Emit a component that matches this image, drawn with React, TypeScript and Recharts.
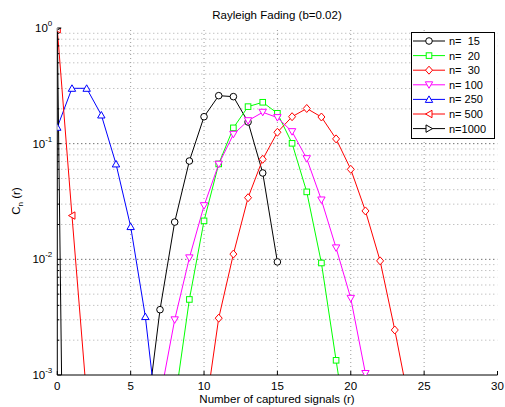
import React from "react";
import { LineChart, Line, XAxis, YAxis, ReferenceLine } from "recharts";

// r values (number of captured signals) and C_n(r)
const rCategories = [0, 1, 2, 3, 4, 5, 6, 7, 8, 9, 10, 11, 12, 13, 14, 15, 16, 17, 18, 19, 20, 21, 22, 23, 24];

const n15Start = 6;
const n15 = [3.5e-4, 3.67e-3, 0.021, 0.0708, 0.171, 0.26, 0.255, 0.154, 0.0558, 0.0095];
const n20Start = 8;
const n20 = [5.7e-4, 4.5e-3, 0.0215, 0.0668, 0.137, 0.209, 0.228, 0.183, 0.1007, 0.0383, 0.0093, 1.34e-3, 2e-4];
const n30Start = 10;
const n30 = [4e-4, 3.1e-3, 0.0111, 0.0341, 0.0733, 0.1255, 0.171, 0.2015, 0.17, 0.11, 0.06, 0.0262, 0.0097, 2.45e-3, 5.5e-4];
const n100Start = 7;
const n100 = [6.3e-4, 3.0e-3, 0.0103, 0.0291, 0.0664, 0.1205, 0.158, 0.1868, 0.168, 0.127, 0.0742, 0.0326, 0.01256, 4.6e-3, 1.03e-3, 2.3e-4];
const n250Start = 0;
const n250 = [0.1386, 0.301, 0.301, 0.177, 0.0668, 0.0192, 3.2e-3, 2.5e-4];
const n500Start = 0;
const n500 = [0.975, 0.0239, 6.5e-4];
const n1000Start = 0;
const n1000 = [1, 5e-11];

const xTicks = [0, 5, 10, 15, 20, 25, 30];
const xGrid = [5, 10, 15, 20, 25];
const yDecades = [0.001, 0.01, 0.1, 1];
const yMinor = [
  0.002, 0.003, 0.004, 0.005, 0.006, 0.007, 0.008, 0.009,
  0.02, 0.03, 0.04, 0.05, 0.06, 0.07, 0.08, 0.09,
  0.2, 0.3, 0.4, 0.5, 0.6, 0.7, 0.8, 0.9,
];
const yTicks = [...yDecades, ...yMinor].sort((a, b) => a - b);

type Shape = "circle" | "square" | "diamond" | "triDown" | "triUp" | "triLeft" | "triRight";

const SERIES: { key: string; label: string; color: string; shape: Shape; start: number; values: number[] }[] = [
  { key: "n15", label: "n=  15", color: "#000000", shape: "circle", start: n15Start, values: n15 },
  { key: "n20", label: "n=  20", color: "#00ff00", shape: "square", start: n20Start, values: n20 },
  { key: "n30", label: "n=  30", color: "#ff0000", shape: "diamond", start: n30Start, values: n30 },
  { key: "n100", label: "n= 100", color: "#ff00ff", shape: "triDown", start: n100Start, values: n100 },
  { key: "n250", label: "n= 250", color: "#0000ff", shape: "triUp", start: n250Start, values: n250 },
  { key: "n500", label: "n= 500", color: "#ff0000", shape: "triLeft", start: n500Start, values: n500 },
  { key: "n1000", label: "n=1000", color: "#000000", shape: "triRight", start: n1000Start, values: n1000 },
];

const data = rCategories.map((r) => {
  const row: { [key: string]: number | null } = { r };
  SERIES.forEach((s) => {
    const i = r - s.start;
    row[s.key] = i >= 0 && i < s.values.length ? s.values[i] : null;
  });
  return row;
});

const FONT = '"Liberation Sans", Arial, sans-serif';

function Marker({ shape, cx, cy, color }: { shape: Shape; cx: number; cy: number; color: string }) {
  const common = { fill: "#ffffff", stroke: color, strokeWidth: 1 };
  switch (shape) {
    case "circle":
      return <circle cx={cx} cy={cy} r={3.3} {...common} />;
    case "square":
      return <rect x={cx - 2.8} y={cy - 2.8} width={5.6} height={5.6} {...common} />;
    case "diamond":
      return <polygon points={`${cx},${cy - 4} ${cx + 3.5},${cy} ${cx},${cy + 4} ${cx - 3.5},${cy}`} {...common} />;
    case "triDown":
      return <polygon points={`${cx - 3.7},${cy - 3} ${cx + 3.7},${cy - 3} ${cx},${cy + 3.5}`} {...common} />;
    case "triUp":
      return <polygon points={`${cx - 3.7},${cy + 3} ${cx + 3.7},${cy + 3} ${cx},${cy - 3.5}`} {...common} />;
    case "triLeft":
      return <polygon points={`${cx + 3},${cy - 3.7} ${cx + 3},${cy + 3.7} ${cx - 3.5},${cy}`} {...common} />;
    default:
      return <polygon points={`${cx - 3},${cy - 3.7} ${cx - 3},${cy + 3.7} ${cx + 3.5},${cy}`} {...common} />;
  }
}

function isDecade(v: number) {
  return yDecades.some((d) => Math.abs(d - v) < d * 1e-6);
}

function BottomTick(props: any) {
  const { x, y, payload } = props;
  return (
    <g>
      <line x1={x} x2={x} y1={y} y2={y - 4} stroke="#000" />
      <text x={x} y={y + 15} textAnchor="middle" fontSize={11.5} fontFamily={FONT} fill="#000">
        {payload.value}
      </text>
    </g>
  );
}

function TopTick(props: any) {
  const { x, y } = props;
  return <line x1={x} x2={x} y1={y} y2={y + 4} stroke="#000" />;
}

function LeftTick(props: any) {
  const { x, y, payload } = props;
  const major = isDecade(payload.value);
  const exp = Math.round(Math.log10(payload.value));
  return (
    <g>
      <line x1={x} x2={x + (major ? 4 : 2)} y1={y} y2={y} stroke="#000" />
      {major && (
        <text x={x - 5} y={y + 4} textAnchor="end" fontSize={11.5} fontFamily={FONT} fill="#000">
          10
          <tspan dy={-6} fontSize={8}>
            {exp === 0 ? "0" : `-${-exp}`}
          </tspan>
        </text>
      )}
    </g>
  );
}

function RightTick(props: any) {
  const { x, y, payload } = props;
  const major = isDecade(payload.value);
  return <line x1={x} x2={x - (major ? 4 : 2)} y1={y} y2={y} stroke="#000" />;
}

export default function App() {
  return (
    <div style={{ position: "absolute", left: 0, top: 0, width: 505, height: 407, background: "#fff" }}>
      <LineChart width={505} height={407} data={data} margin={{ top: 28, right: 7.5, bottom: 0, left: 0 }}>
        <XAxis
          dataKey="r"
          type="number"
          domain={[0, 30]}
          ticks={xTicks}
          allowDataOverflow
          interval={0}
          height={32}
          tickLine={false}
          tickSize={0}
          tickMargin={0}
          axisLine={{ stroke: "#000" }}
          tick={<BottomTick />}
        />
        <XAxis
          xAxisId="top"
          orientation="top"
          type="number"
          domain={[0, 30]}
          ticks={xTicks}
          interval={0}
          height={0}
          tickLine={false}
          tickSize={0}
          tickMargin={0}
          axisLine={{ stroke: "#000" }}
          tick={<TopTick />}
        />
        <YAxis
          type="number"
          scale="log"
          domain={[0.001, 1]}
          ticks={yTicks}
          allowDataOverflow
          interval={0}
          width={57.3}
          tickLine={false}
          tickSize={0}
          tickMargin={0}
          axisLine={{ stroke: "#000" }}
          tick={<LeftTick />}
        />
        <YAxis
          yAxisId="right"
          orientation="right"
          type="number"
          scale="log"
          domain={[0.001, 1]}
          ticks={yTicks}
          interval={0}
          width={0}
          tickLine={false}
          tickSize={0}
          tickMargin={0}
          axisLine={{ stroke: "#000" }}
          tick={<RightTick />}
        />
        {xGrid.map((v) => (
          <ReferenceLine key={`vx${v}`} x={v} stroke="#9a9a9a" strokeDasharray="1 3" />
        ))}
        {yMinor.map((v) => (
          <ReferenceLine key={`hy${v}`} y={v} stroke="#a8a8a8" strokeDasharray="1 3" />
        ))}
        {[0.01, 0.1].map((v) => (
          <ReferenceLine key={`hd${v}`} y={v} stroke="#333" strokeDasharray="1 3" />
        ))}
        {SERIES.map((s) => (
          <Line
            key={s.key}
            dataKey={s.key}
            stroke={s.color}
            strokeWidth={1}
            isAnimationActive={false}
            connectNulls={false}
            activeDot={false}
            dot={(p: any) =>
              p.cy == null || p.value == null ? (
                <g key={`${s.key}-${p.index}`} />
              ) : (
                <Marker key={`${s.key}-${p.index}`} shape={s.shape} cx={p.cx} cy={p.cy} color={s.color} />
              )
            }
          />
        ))}
      </LineChart>
      <svg width={505} height={407} style={{ position: "absolute", left: 0, top: 0, pointerEvents: "none" }}>
        <text x={277} y={19} textAnchor="middle" fontSize={11.5} fontFamily={FONT} fill="#000">
          Rayleigh Fading (b=0.02)
        </text>
        <text x={277} y={403} textAnchor="middle" fontSize={11.5} fontFamily={FONT} fill="#000">
          Number of captured signals (r)
        </text>
        <text x={20} y={201} textAnchor="middle" fontSize={11.5} fontFamily={FONT} fill="#000" transform="rotate(-90 20 201)">
          C
          <tspan dy={3} fontSize={8}>n</tspan>
          <tspan dy={-3}> (r)</tspan>
        </text>
        <rect x={411.5} y={32.5} width={83} height={106} fill="#fff" stroke="#000" strokeWidth={1} />
        {SERIES.map((s, i) => {
          const y = 41 + i * 14.6;
          return (
            <g key={s.key}>
              <line x1={413} x2={445} y1={y} y2={y} stroke={s.color} strokeWidth={1} />
              <Marker shape={s.shape} cx={429} cy={y} color={s.color} />
              <text
                x={449}
                y={y + 4}
                fontSize={11}
                fontFamily={FONT}
                fill="#000"
                xmlSpace="preserve"
                style={{ whiteSpace: "pre" }}
              >
                {s.label}
              </text>
            </g>
          );
        })}
      </svg>
    </div>
  );
}
